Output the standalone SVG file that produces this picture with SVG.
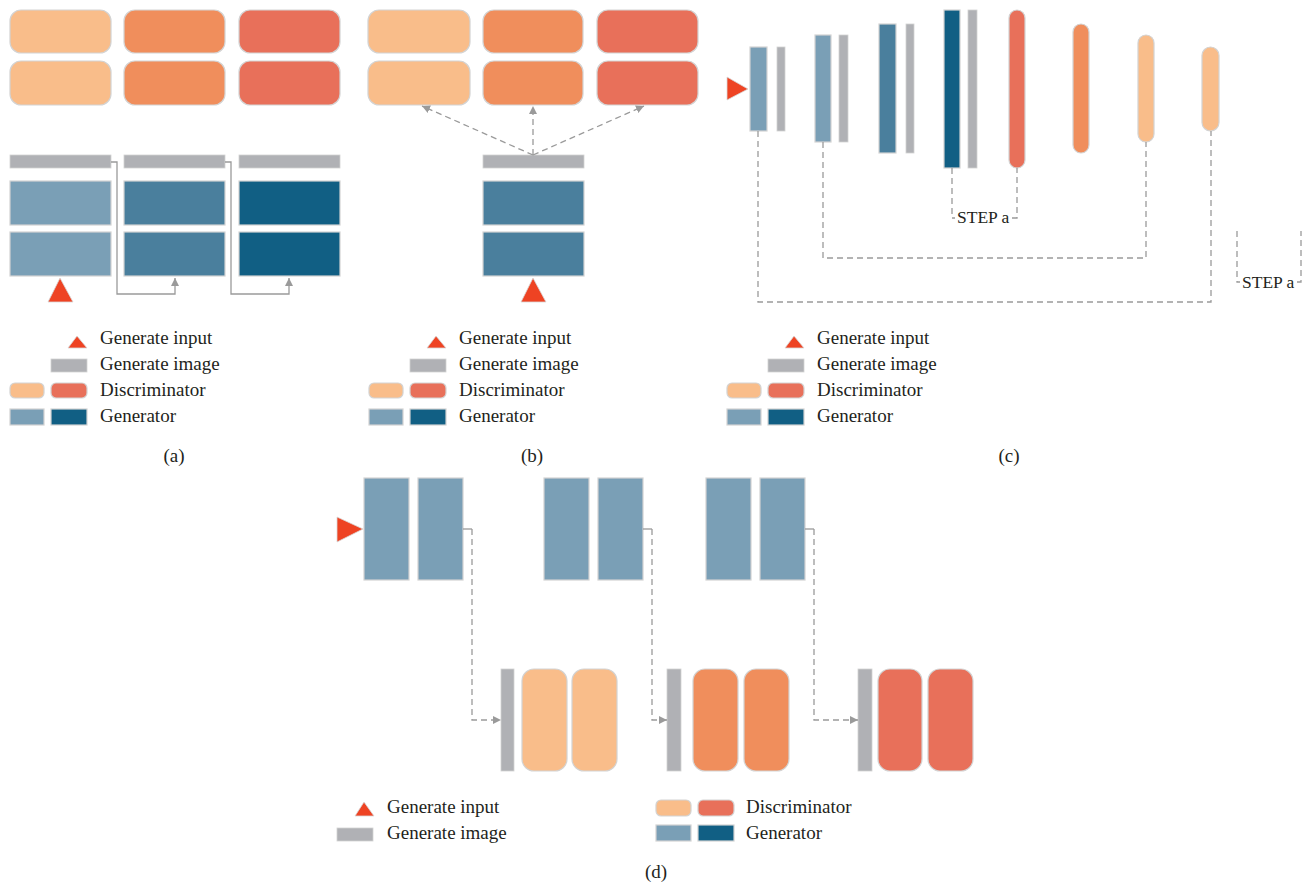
<svg xmlns="http://www.w3.org/2000/svg" width="1312" height="885" viewBox="0 0 1312 885">
<defs>
<style>
.d1{fill:#F9BD8A;stroke:#D3D3D3;stroke-width:1.2}
.d2{fill:#F08E5C;stroke:#D3D3D3;stroke-width:1.2}
.d3{fill:#E8705A;stroke:#D3D3D3;stroke-width:1.2}
.g1{fill:#7A9FB6;stroke:#D3D3D3;stroke-width:1.2}
.g2{fill:#4A7F9D;stroke:#D3D3D3;stroke-width:1.2}
.g3{fill:#115F84;stroke:#D3D3D3;stroke-width:1.2}
.im{fill:#B0B1B5;stroke:#D3D3D3;stroke-width:0.8}
.tri{fill:#EE4323;stroke:#D8D8D8;stroke-width:0.8}
.sol{fill:none;stroke:#9A9A9A;stroke-width:1.3}
.dsh{fill:none;stroke:#9A9A9A;stroke-width:1.3;stroke-dasharray:6 4}
.t{font-family:"Liberation Serif","Times New Roman",serif;font-size:19px;fill:#231F20}
.st{font-family:"Liberation Serif","Times New Roman",serif;font-size:17.5px;fill:#231F20}
.cap{font-family:"Liberation Serif","Times New Roman",serif;font-size:19px;fill:#231F20;text-anchor:middle}
</style>
<marker id="ah" viewBox="0 0 10 10" refX="10" refY="5" markerWidth="8" markerHeight="8" markerUnits="userSpaceOnUse" orient="auto">
<path d="M0,0 L10,5 L0,10 z" fill="#9A9A9A"/>
</marker>
</defs>

<!-- ============ Panel (a) ============ -->
<g id="a-disc">
<rect class="d1" x="10" y="10" width="101" height="43" rx="11"/>
<rect class="d1" x="10" y="61" width="101" height="44" rx="11"/>
<rect class="d2" x="124" y="10" width="101" height="43" rx="11"/>
<rect class="d2" x="124" y="61" width="101" height="44" rx="11"/>
<rect class="d3" x="239" y="10" width="101" height="43" rx="11"/>
<rect class="d3" x="239" y="61" width="101" height="44" rx="11"/>
</g>
<g id="a-images">
<rect class="im" x="10" y="155" width="101" height="13"/>
<rect class="im" x="124" y="155" width="101" height="13"/>
<rect class="im" x="239" y="155" width="101" height="13"/>
</g>
<g id="a-gen">
<rect class="g1" x="10" y="181" width="101" height="44"/>
<rect class="g1" x="10" y="232" width="101" height="44"/>
<rect class="g2" x="124" y="181" width="101" height="44"/>
<rect class="g2" x="124" y="232" width="101" height="44"/>
<rect class="g3" x="239" y="181" width="101" height="44"/>
<rect class="g3" x="239" y="232" width="101" height="44"/>
</g>
<g id="a-input"><polygon class="tri" points="48,302 60,278 73,302"/></g>

<!-- ============ Panel (b) ============ -->
<g id="b-disc">
<rect class="d1" x="368" y="10" width="102" height="43" rx="11"/>
<rect class="d1" x="368" y="61" width="102" height="44" rx="11"/>
<rect class="d2" x="483" y="10" width="100" height="43" rx="11"/>
<rect class="d2" x="483" y="61" width="100" height="44" rx="11"/>
<rect class="d3" x="597" y="10" width="101" height="43" rx="11"/>
<rect class="d3" x="597" y="61" width="101" height="44" rx="11"/>
</g>
<g id="b-image"><rect class="im" x="483" y="155" width="101" height="13"/></g>
<g id="b-gen">
<rect class="g2" x="483" y="181" width="101" height="44"/>
<rect class="g2" x="483" y="232" width="101" height="44"/>
</g>
<g id="b-input"><polygon class="tri" points="521,302 533,278 546,302"/></g>

<!-- ============ Panel (c) ============ -->
<g id="c-input"><polygon class="tri" points="727,77 748,89 727,100"/></g>
<g id="c-gen">
<rect class="g1" x="750" y="47" width="17" height="84"/>
<rect class="im" x="777" y="47" width="8" height="84"/>
<rect class="g1" x="815" y="35" width="16" height="107"/>
<rect class="im" x="839" y="35" width="9" height="107"/>
<rect class="g2" x="879" y="24" width="17" height="129"/>
<rect class="im" x="906" y="24" width="8" height="129"/>
<rect class="g3" x="944" y="10" width="16" height="158"/>
<rect class="im" x="968" y="10" width="9" height="158"/>
</g>
<g id="c-disc">
<rect class="d3" x="1009" y="10" width="16" height="158" rx="8"/>
<rect class="d2" x="1073" y="24" width="16" height="129" rx="8"/>
<rect class="d1" x="1138" y="35" width="16" height="107" rx="8"/>
<rect class="d1" x="1202" y="47" width="17" height="84" rx="8.5"/>
</g>
<g id="c-step-labels">
<text class="st" x="957" y="223">STEP a</text>
<text class="st" x="1242" y="288">STEP a</text>
</g>

<!-- ============ Panel (d) ============ -->
<g id="d-input"><polygon class="tri" points="337,517 363,529 337,542"/></g>
<g id="d-gen1">
<rect class="g1" x="364" y="478" width="45" height="102"/>
<rect class="g1" x="418" y="478" width="45" height="102"/>
</g>
<g id="d-gen2">
<rect class="g1" x="544" y="478" width="45" height="102"/>
<rect class="g1" x="598" y="478" width="45" height="102"/>
</g>
<g id="d-gen3">
<rect class="g1" x="706" y="478" width="45" height="102"/>
<rect class="g1" x="760" y="478" width="45" height="102"/>
</g>
<g id="d-disc1">
<rect class="im" x="501" y="669" width="13" height="102"/>
<rect class="d1" x="522" y="669" width="45" height="102" rx="12"/>
<rect class="d1" x="572" y="669" width="45" height="102" rx="12"/>
</g>
<g id="d-disc2">
<rect class="im" x="667" y="669" width="14" height="102"/>
<rect class="d2" x="693" y="669" width="45" height="102" rx="12"/>
<rect class="d2" x="744" y="669" width="45" height="102" rx="12"/>
</g>
<g id="d-disc3">
<rect class="im" x="858" y="669" width="14" height="102"/>
<rect class="d3" x="878" y="669" width="44" height="102" rx="12"/>
<rect class="d3" x="928" y="669" width="45" height="102" rx="12"/>
</g>

<!-- ============ Connectors ============ -->
<g id="connectors">
<path class="sol" d="M111,162 H117 V294 H175 V278" marker-end="url(#ah)"/>
<path class="sol" d="M225,162 H231 V294 H289 V278" marker-end="url(#ah)"/>
<path class="dsh" d="M533,155 L422,106" marker-end="url(#ah)"/>
<path class="dsh" d="M533,155 L533,106" marker-end="url(#ah)"/>
<path class="dsh" d="M533,155 L644,106" marker-end="url(#ah)"/>
<path class="dsh" d="M952,168 V218 H955"/>
<path class="dsh" d="M1012,218 H1017 V168"/>
<path class="dsh" d="M823,142 V258 H1146 V142"/>
<path class="dsh" d="M758,131 V302 H1211 V131"/>
<path class="dsh" d="M1237,231 V282 H1240"/>
<path class="dsh" d="M1297,282 H1301 V231"/>
<path class="sol" d="M463,529 H472"/>
<path class="dsh" d="M472,529 V720 H501" marker-end="url(#ah)"/>
<path class="sol" d="M643,529 H652"/>
<path class="dsh" d="M652,529 V720 H667" marker-end="url(#ah)"/>
<path class="sol" d="M805,529 H814"/>
<path class="dsh" d="M814,529 V720 H858" marker-end="url(#ah)"/>
</g>

<!-- ============ Legends ============ -->
<g id="legend-a">
<polygon class="tri" points="68,348 77,336 87,348"/>
<rect class="im" x="51" y="359" width="36" height="13"/>
<rect class="d1" x="10" y="383" width="34" height="15" rx="5"/>
<rect class="d3" x="51" y="383" width="36" height="15" rx="5"/>
<rect class="g1" x="10" y="409" width="34" height="16"/>
<rect class="g3" x="51" y="409" width="36" height="16"/>
<text class="t" x="100" y="344">Generate input</text>
<text class="t" x="100" y="370">Generate image</text>
<text class="t" x="100" y="396">Discriminator</text>
<text class="t" x="100" y="422">Generator</text>
<text class="cap" x="174" y="462">(a)</text>
</g>
<g id="legend-b" transform="translate(359,0)">
<polygon class="tri" points="68,348 77,336 87,348"/>
<rect class="im" x="51" y="359" width="36" height="13"/>
<rect class="d1" x="10" y="383" width="34" height="15" rx="5"/>
<rect class="d3" x="51" y="383" width="36" height="15" rx="5"/>
<rect class="g1" x="10" y="409" width="34" height="16"/>
<rect class="g3" x="51" y="409" width="36" height="16"/>
<text class="t" x="100" y="344">Generate input</text>
<text class="t" x="100" y="370">Generate image</text>
<text class="t" x="100" y="396">Discriminator</text>
<text class="t" x="100" y="422">Generator</text>
<text class="cap" x="173" y="462">(b)</text>
</g>
<g id="legend-c" transform="translate(717,0)">
<polygon class="tri" points="68,348 77,336 87,348"/>
<rect class="im" x="51" y="359" width="36" height="13"/>
<rect class="d1" x="10" y="383" width="34" height="15" rx="5"/>
<rect class="d3" x="51" y="383" width="36" height="15" rx="5"/>
<rect class="g1" x="10" y="409" width="34" height="16"/>
<rect class="g3" x="51" y="409" width="36" height="16"/>
<text class="t" x="100" y="344">Generate input</text>
<text class="t" x="100" y="370">Generate image</text>
<text class="t" x="100" y="396">Discriminator</text>
<text class="t" x="100" y="422">Generator</text>
<text class="cap" x="292" y="462">(c)</text>
</g>
<g id="legend-d">
<polygon class="tri" points="355,816 364,802 374,816"/>
<rect class="im" x="337" y="828" width="36" height="13"/>
<rect class="d1" x="656" y="800" width="35" height="16" rx="5"/>
<rect class="d3" x="698" y="800" width="36" height="16" rx="5"/>
<rect class="g1" x="656" y="825" width="35" height="16"/>
<rect class="g3" x="698" y="825" width="36" height="16"/>
<text class="t" x="387" y="813">Generate input</text>
<text class="t" x="387" y="839">Generate image</text>
<text class="t" x="746" y="813">Discriminator</text>
<text class="t" x="746" y="839">Generator</text>
<text class="cap" x="656" y="878">(d)</text>
</g>
</svg>
